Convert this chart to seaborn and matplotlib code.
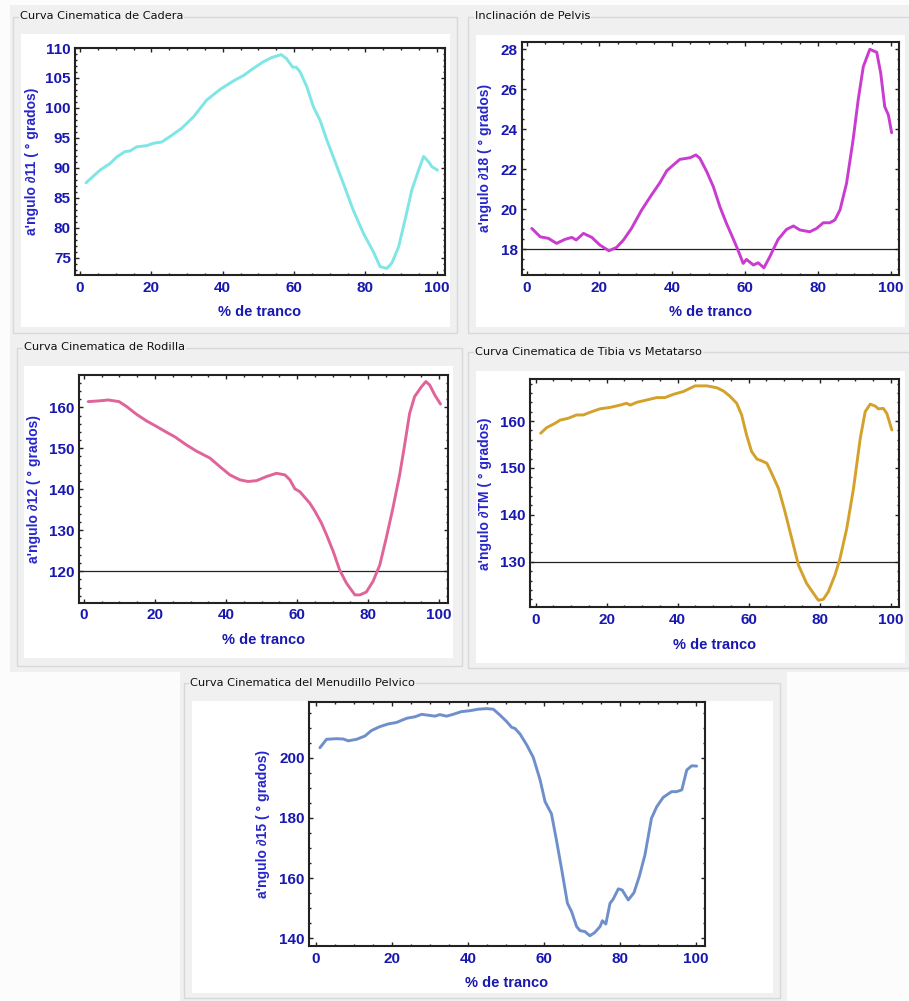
import numpy as np
import pandas as pd
import matplotlib
matplotlib.use("Agg")
import matplotlib.pyplot as plt
import seaborn as sns
from matplotlib.patches import Rectangle
from matplotlib.ticker import MultipleLocator

# ---------------- data ----------------
cadera_x = [1.7, 5.6, 8.4, 10.3, 12.6, 14.0, 15.9, 18.7, 20.6, 22.9, 25.2, 28.5, 31.8, 35.5,
            39.3, 43.0, 45.8, 48.6, 51.4, 53.7, 56.4, 57.9, 59.6, 60.6, 61.7, 63.6, 65.4,
            67.3, 69.2, 71.0, 73.8, 76.6, 79.4, 82.2, 84.1, 86.0, 87.4, 89.3, 91.1, 93.0,
            94.9, 96.3, 97.7, 98.6, 100.2]
cadera_y = [87.5, 89.6, 90.7, 91.8, 92.7, 92.8, 93.5, 93.7, 94.1, 94.3, 95.2, 96.6, 98.5, 101.3,
            103.1, 104.5, 105.4, 106.6, 107.7, 108.4, 108.9, 108.2, 106.8, 106.8, 106.0, 103.5,
            100.2, 97.9, 94.6, 91.8, 87.4, 82.9, 79.1, 76.0, 73.5, 73.2, 74.1, 76.8, 81.3, 86.3,
            89.6, 91.9, 91.0, 90.2, 89.6]

pelvis_x = [1.4, 3.7, 6.0, 8.2, 10.5, 12.4, 13.6, 15.6, 17.9, 20.1, 22.6, 24.7, 26.6, 28.8,
            31.6, 34.3, 36.6, 38.5, 40.3, 42.1, 44.9, 46.5, 47.6, 49.5, 51.3, 53.1, 54.9,
            56.3, 57.7, 59.5, 60.4, 62.3, 63.6, 65.2, 66.8, 69.1, 71.4, 73.3, 75.1, 77.8,
            79.7, 81.5, 83.3, 84.7, 86.1, 87.9, 89.7, 91.1, 92.5, 94.3, 96.2, 97.3, 98.4,
            99.4, 100.3]
pelvis_y = [19.05, 18.63, 18.55, 18.30, 18.50, 18.60, 18.47, 18.80, 18.60, 18.22, 17.93, 18.10,
            18.47, 19.05, 19.97, 20.72, 21.33, 21.93, 22.22, 22.50, 22.58, 22.72, 22.55, 21.88,
            21.13, 20.13, 19.30, 18.72, 18.13, 17.30, 17.50, 17.22, 17.33, 17.08, 17.63, 18.50,
            19.00, 19.17, 18.97, 18.88, 19.05, 19.33, 19.33, 19.47, 19.97, 21.30, 23.47, 25.47,
            27.13, 28.00, 27.85, 26.80, 25.13, 24.72, 23.83]

rodilla_x = [1.2, 4.5, 6.8, 9.9, 12.0, 14.8, 17.6, 20.5, 23.3, 25.6, 28.9, 31.7, 35.5, 38.3,
             41.1, 43.9, 46.2, 48.6, 51.4, 54.2, 56.6, 58.0, 59.4, 60.8, 63.6, 65.0, 66.9,
             68.3, 70.2, 72.0, 73.9, 76.3, 77.7, 79.5, 81.4, 83.3, 85.1, 87.0, 88.9, 90.3,
             91.7, 93.1, 95.0, 96.3, 97.4, 98.8, 100.4]
rodilla_y = [161.4, 161.6, 161.8, 161.4, 160.2, 158.3, 156.7, 155.3, 153.9, 152.8, 150.8, 149.3,
             147.6, 145.5, 143.5, 142.3, 141.9, 142.1, 143.1, 143.9, 143.5, 142.3, 140.1, 139.4,
             136.6, 134.7, 131.7, 128.9, 124.8, 120.3, 117.1, 114.2, 114.2, 114.9, 117.5, 121.5,
             128.0, 135.4, 143.5, 150.8, 158.5, 162.6, 165.0, 166.3, 165.4, 163.0, 160.8]

tibia_x = [1.4, 3.1, 5.4, 6.9, 9.2, 11.5, 13.4, 15.8, 18.1, 20.9, 23.8, 25.6, 26.6, 28.5, 31.3,
           34.1, 36.4, 38.8, 41.6, 43.5, 44.9, 48.2, 51.0, 52.9, 54.7, 56.6, 58.0, 59.4, 60.8,
           62.3, 63.7, 65.1, 66.5, 68.4, 70.2, 72.1, 74.0, 76.3, 78.2, 79.6, 81.0, 82.4, 84.3,
           85.7, 87.6, 89.5, 91.4, 92.8, 94.2, 95.6, 96.5, 97.9, 98.9, 100.3]
tibia_y = [157.4, 158.6, 159.5, 160.2, 160.6, 161.3, 161.3, 162.0, 162.6, 162.9, 163.4, 163.8,
           163.4, 164.0, 164.5, 165.0, 165.0, 165.7, 166.3, 167.0, 167.5, 167.5, 167.1, 166.4,
           165.3, 163.8, 161.3, 157.0, 153.5, 151.9, 151.5, 151.0, 148.8, 145.6, 140.7, 135.0,
           129.3, 125.4, 123.3, 121.8, 122.0, 123.6, 127.2, 130.7, 137.1, 145.6, 156.3, 162.0,
           163.6, 163.2, 162.6, 162.7, 161.6, 158.1]

menudillo_x = [1.05, 2.8, 5.4, 7.2, 8.5, 10.7, 12.9, 14.6, 16.8, 19.0, 21.2, 23.9, 26.1, 27.8,
               29.6, 31.3, 32.6, 34.4, 36.1, 38.3, 40.5, 42.7, 44.9, 46.7, 48.4, 50.2, 51.5,
               52.4, 53.7, 55.5, 57.2, 59.0, 60.3, 62.0, 63.3, 64.7, 66.2, 67.3, 68.6, 69.5,
               70.8, 72.1, 73.4, 74.8, 75.4, 76.3, 77.4, 78.2, 79.6, 80.6, 82.2, 83.7, 85.1,
               86.6, 88.3, 89.7, 91.4, 93.6, 94.9, 96.3, 97.6, 98.9, 100.2]
menudillo_y = [203.3, 206.1, 206.3, 206.2, 205.6, 206.1, 207.2, 209.0, 210.3, 211.2, 211.7,
               213.1, 213.6, 214.4, 214.1, 213.8, 214.3, 213.8, 214.4, 215.3, 215.6, 216.1,
               216.3, 216.1, 214.2, 212.0, 210.1, 209.7, 207.9, 204.2, 200.1, 192.6, 185.4,
               181.3, 172.6, 162.7, 151.6, 148.8, 143.9, 142.5, 142.2, 140.8, 141.9, 143.9,
               145.8, 144.7, 151.6, 152.9, 156.4, 156.0, 152.7, 155.1, 160.5, 167.7, 179.8,
               183.7, 186.8, 188.7, 188.7, 189.3, 195.9, 197.3, 197.2]

titles = ["Curva Cinematica de Cadera", "Inclinación de Pelvis",
          "Curva Cinematica de Rodilla", "Curva Cinematica de Tibia vs Metatarso",
          "Curva Cinematica del Menudillo Pelvico"]
ylabels = ["a'ngulo \u220211 ( ° grados)", "a'ngulo \u220218 ( ° grados)",
           "a'ngulo \u220212 ( ° grados)", "a'ngulo \u2202TM ( ° grados)",
           "a'ngulo \u220215 ( ° grados)"]
xlabel = "% de tranco"
ref_lines = [None, 18, 120, 130, None]

# ---------------- layout / style ----------------
W, H = 909, 1001
sns.set_theme(style="ticks")
plt.rcParams["font.family"] = ["Liberation Sans", "DejaVu Sans"]
plt.rcParams["font.weight"] = "bold"

fig = plt.figure(figsize=(W / 100, H / 100), dpi=100, facecolor="#fcfcfc")


def frect(x0, y0, x1, y1, **kw):
    fig.patches.append(Rectangle((x0 / W, 1 - y1 / H), (x1 - x0) / W, (y1 - y0) / H,
                                 transform=fig.transFigure, **kw))


# gray window background
frect(10, 5, 909, 672, facecolor="#f0f0f0", edgecolor="none", zorder=-5)
frect(180, 672, 787, 1001, facecolor="#f0f0f0", edgecolor="none", zorder=-5)

panels = [
    dict(box=(13, 17, 457, 333), white=(20.7, 34.3, 450, 326.7), title_xy=(20, 16),
         ax=(75, 48, 445, 275), xlim=(-1.4, 102.3), ylim=(72.1, 110.0),
         ymaj=5, ymin=1, color="#7fe5e5", ylc=-0.117, xlc=-0.164),
    dict(box=(468, 17, 915, 333), white=(475.7, 35, 905, 326.7), title_xy=(475, 16),
         ax=(521.7, 41.7, 899.3, 275), xlim=(-1.37, 102.4), ylim=(16.72, 28.38),
         ymaj=2, ymin=0.5, color="#c93ccf", ylc=-0.097, xlc=-0.157),
    dict(box=(16.7, 348, 461.7, 666), white=(24, 366, 453.3, 658.3), title_xy=(24, 347),
         ax=(79, 375, 448.3, 602.7), xlim=(-1.4, 102.6), ylim=(112.3, 167.9),
         ymaj=10, ymin=2, color="#e0639a", ylc=-0.121, xlc=-0.164),
    dict(box=(468.3, 352, 915, 668), white=(475.7, 370.7, 905, 663.3), title_xy=(475, 352),
         ax=(530, 379.3, 899.3, 607.3), xlim=(-1.6, 102.4), ylim=(120.3, 168.9),
         ymaj=10, ymin=2, color="#d3a12c", ylc=-0.122, xlc=-0.165),
    dict(box=(184, 683, 780, 998), white=(191.7, 701, 772.7, 993), title_xy=(190, 683),
         ax=(308.7, 701.7, 705, 946), xlim=(-1.9, 102.4), ylim=(137.4, 218.6),
         ymaj=20, ymin=5, color="#6f8fcb", ylc=-0.115, xlc=-0.153),
]

series = [(cadera_x, cadera_y), (pelvis_x, pelvis_y), (rodilla_x, rodilla_y),
          (tibia_x, tibia_y), (menudillo_x, menudillo_y)]

tick_blue = "#1818b0"
label_blue = "#2626cc"

for i, p in enumerate(panels):
    bx0, by0, bx1, by1 = p["box"]
    frect(bx0, by0, bx1, by1, facecolor="none", edgecolor="#d6d9dc", lw=1.0, zorder=-4)
    wx0, wy0, wx1, wy1 = p["white"]
    frect(wx0, wy0, wx1, wy1, facecolor="white", edgecolor="none", zorder=-3)
    tx, ty = p["title_xy"]
    fig.text(tx / W, 1 - ty / H, titles[i], ha="left", va="center", fontsize=8.2,
             family=["DejaVu Sans"], fontweight="normal", color="#111111", zorder=3,
             bbox=dict(facecolor="#f0f0f0", edgecolor="none", pad=0.6))

    l, t, r, b = p["ax"]
    ax = fig.add_axes([l / W, 1 - b / H, (r - l) / W, (b - t) / H])
    ax.set_facecolor("white")
    xs, ys = series[i]
    df = pd.DataFrame({"x": xs, "y": ys})
    sns.lineplot(data=df, x="x", y="y", ax=ax, color=p["color"], lw=2.1,
                 estimator=None, sort=False)
    if ref_lines[i] is not None:
        ax.axhline(ref_lines[i], color="#222222", lw=0.9, zorder=1)

    ax.set_xlim(*p["xlim"])
    ax.set_ylim(*p["ylim"])
    ax.xaxis.set_major_locator(MultipleLocator(20))
    ax.xaxis.set_minor_locator(MultipleLocator(5))
    ax.yaxis.set_major_locator(MultipleLocator(p["ymaj"]))
    ax.yaxis.set_minor_locator(MultipleLocator(p["ymin"]))
    ax.tick_params(which="both", direction="in", top=True, right=True,
                   color="#222222", width=1.0)
    ax.tick_params(which="major", length=3.2)
    ax.tick_params(which="minor", length=1.6)
    ax.tick_params(axis="x", which="major", labelsize=11, labelcolor=tick_blue, pad=4)
    ax.tick_params(axis="y", which="major", labelsize=11, labelcolor=tick_blue, pad=3)
    for s in ax.spines.values():
        s.set_linewidth(1.5)
        s.set_color("#222222")

    ax.set_xlabel(xlabel, fontsize=10.5, fontweight="bold", color=tick_blue, va="center")
    ax.xaxis.set_label_coords(0.5, p["xlc"])
    ax.set_ylabel(ylabels[i], fontsize=10, fontweight="bold", color=label_blue, va="center")
    ax.yaxis.set_label_coords(p["ylc"], 0.5)

fig.savefig("out.png", dpi=100, facecolor=fig.get_facecolor())
